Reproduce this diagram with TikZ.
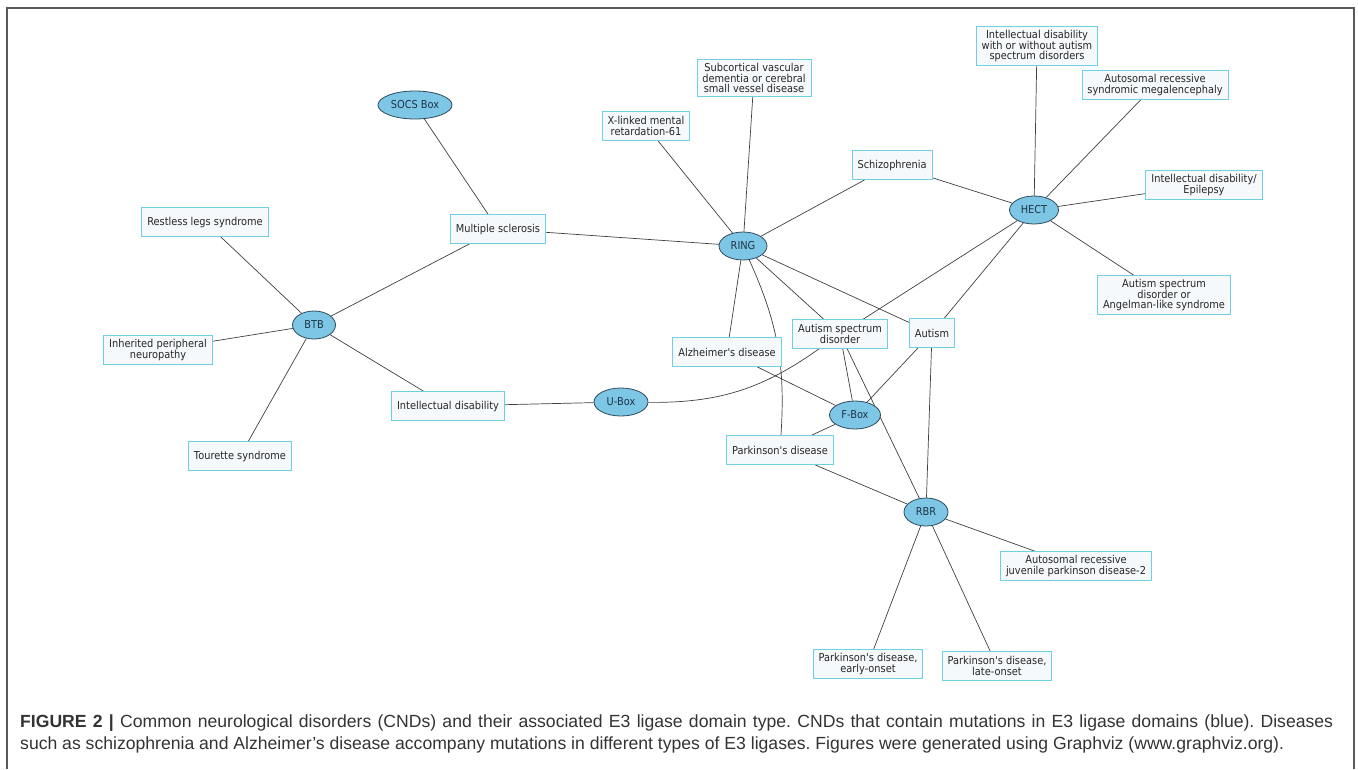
\documentclass[tikz,border=0pt]{standalone}
\usepackage{fontspec}
\usetikzlibrary{shapes.geometric,backgrounds}
\newfontfamily\gfont{DejaVu Sans}[FakeStretch=0.9]
\newfontfamily\capfont{Liberation Sans}
\definecolor{domfill}{HTML}{7DC6E6}
\definecolor{domline}{HTML}{2E4A5A}
\definecolor{domtext}{HTML}{1E3446}
\definecolor{disline}{HTML}{6FD0E2}
\definecolor{disfill}{HTML}{F6F9FC}
\definecolor{edgecol}{HTML}{404040}
\definecolor{framecol}{HTML}{5A5A5A}
\definecolor{captext}{HTML}{333333}
\begin{document}
\begin{tikzpicture}[x=1pt,y=-1pt,
  dom/.style={ellipse, draw=domline, fill=domfill, line width=0.8pt, inner sep=0pt,
    minimum height=28pt, text=domtext, font=\gfont\fontsize{10.9}{11}\selectfont},
  dis/.style={rectangle, draw=disline, fill=disfill, line width=0.8pt, minimum height=29pt,
    inner xsep=5.5pt, inner ysep=3.5pt, align=center, text=black!85,
    font=\gfont\fontsize{10.9}{10.7}\selectfont},
  lnk/.style={draw=edgecol, line width=0.7pt}]
\useasboundingbox (0,0) rectangle (1358,769);
\draw[framecol, line width=1.3pt] (7,769) -- (7,8) -- (1354,8) -- (1354,769);

% domain nodes
\node[dom, minimum width=74pt] (socs) at (415,105) {SOCS Box};
\node[dom, minimum width=43pt] (btb) at (314,325) {BTB};
\node[dom, minimum width=48pt] (ring) at (743,246) {RING};
\node[dom, minimum width=49pt] (hect) at (1034,210) {HECT};
\node[dom, minimum width=54pt] (ubox) at (621,402) {U-Box};
\node[dom, minimum width=51pt] (fbox) at (855,415) {F-Box};
\node[dom, minimum width=44pt] (rbr) at (926,512) {RBR};

% disease nodes
\node[dis] (restless) at (205,222) {Restless legs syndrome};
\node[dis] (ms) at (498,229) {Multiple sclerosis};
\node[dis] (inherited) at (158,350) {Inherited peripheral\\neuropathy};
\node[dis] (tourette) at (240,456) {Tourette syndrome};
\node[dis] (intdis) at (448,406) {Intellectual disability};
\node[dis] (xlinked) at (646,126) {X-linked mental\\retardation-61};
\node[dis] (subcort) at (754,78) {Subcortical vascular\\dementia or cerebral\\small vessel disease};
\node[dis] (schizo) at (892,165) {Schizophrenia};
\node[dis] (idwo) at (1037,46) {Intellectual disability\\with or without autism\\spectrum disorders};
\node[dis] (arsm) at (1155,85) {Autosomal recessive\\syndromic megalencephaly};
\node[dis] (idepi) at (1204,185) {Intellectual disability/\\Epilepsy};
\node[dis] (asdang) at (1164,295) {Autism spectrum\\disorder or\\Angelman-like syndrome};
\node[dis] (alz) at (727,352) {Alzheimer's disease};
\node[dis] (asd) at (840,334) {Autism spectrum\\disorder};
\node[dis] (autism) at (932,333) {Autism};
\node[dis] (pd) at (780,450) {Parkinson's disease};
\node[dis] (arjp) at (1076,566) {Autosomal recessive\\juvenile parkinson disease-2};
\node[dis] (pdearly) at (868,664) {Parkinson's disease,\\early-onset};
\node[dis] (pdlate) at (997,666) {Parkinson's disease,\\late-onset};

\begin{scope}[on background layer]
\draw[lnk] (socs) -- (ms);
\draw[lnk] (btb) -- (restless);
\draw[lnk] (btb) -- (ms);
\draw[lnk] (btb) -- (inherited);
\draw[lnk] (btb) -- (tourette);
\draw[lnk] (btb) -- (intdis);
\draw[lnk] (ms) -- (ring);
\draw[lnk] (intdis) -- (ubox);
\draw[lnk] (ubox) to[bend right=18] (asd);
\draw[lnk] (ring) -- (xlinked);
\draw[lnk] (ring) -- (subcort);
\draw[lnk] (ring) -- (schizo);
\draw[lnk] (ring) -- (alz);
\draw[lnk] (ring) to[bend left=14] (pd);
\draw[lnk] (ring) -- (asd);
\draw[lnk] (ring) -- (autism);
\draw[lnk] (hect) -- (schizo);
\draw[lnk] (hect) -- (idwo);
\draw[lnk] (hect) -- (arsm);
\draw[lnk] (hect) -- (idepi);
\draw[lnk] (hect) -- (asdang);
\draw[lnk] (hect) -- (asd);
\draw[lnk] (hect) -- (autism);
\draw[lnk] (fbox) -- (alz);
\draw[lnk] (fbox) -- (asd);
\draw[lnk] (fbox) -- (autism);
\draw[lnk] (fbox) -- (pd);
\draw[lnk] (rbr) -- (asd);
\draw[lnk] (rbr) -- (autism);
\draw[lnk] (rbr) -- (pd);
\draw[lnk] (rbr) -- (arjp);
\draw[lnk] (rbr) -- (pdearly);
\draw[lnk] (rbr) -- (pdlate);
\end{scope}

\node[anchor=north west, text width=1313pt, align=justify, inner sep=0pt, text=captext,
  font=\capfont\fontsize{17.6}{22}\selectfont\frenchspacing] (cap) at (20,715)
  {\textbf{FIGURE 2 |} Common neurological disorders (CNDs) and their associated E3 ligase domain type. CNDs that contain mutations in E3 ligase domains (blue). Diseases\linebreak
  such as schizophrenia and Alzheimer’s disease accompany mutations in different types of E3 ligases. Figures were generated using Graphviz (www.graphviz.org).};
\end{tikzpicture}
\end{document}
